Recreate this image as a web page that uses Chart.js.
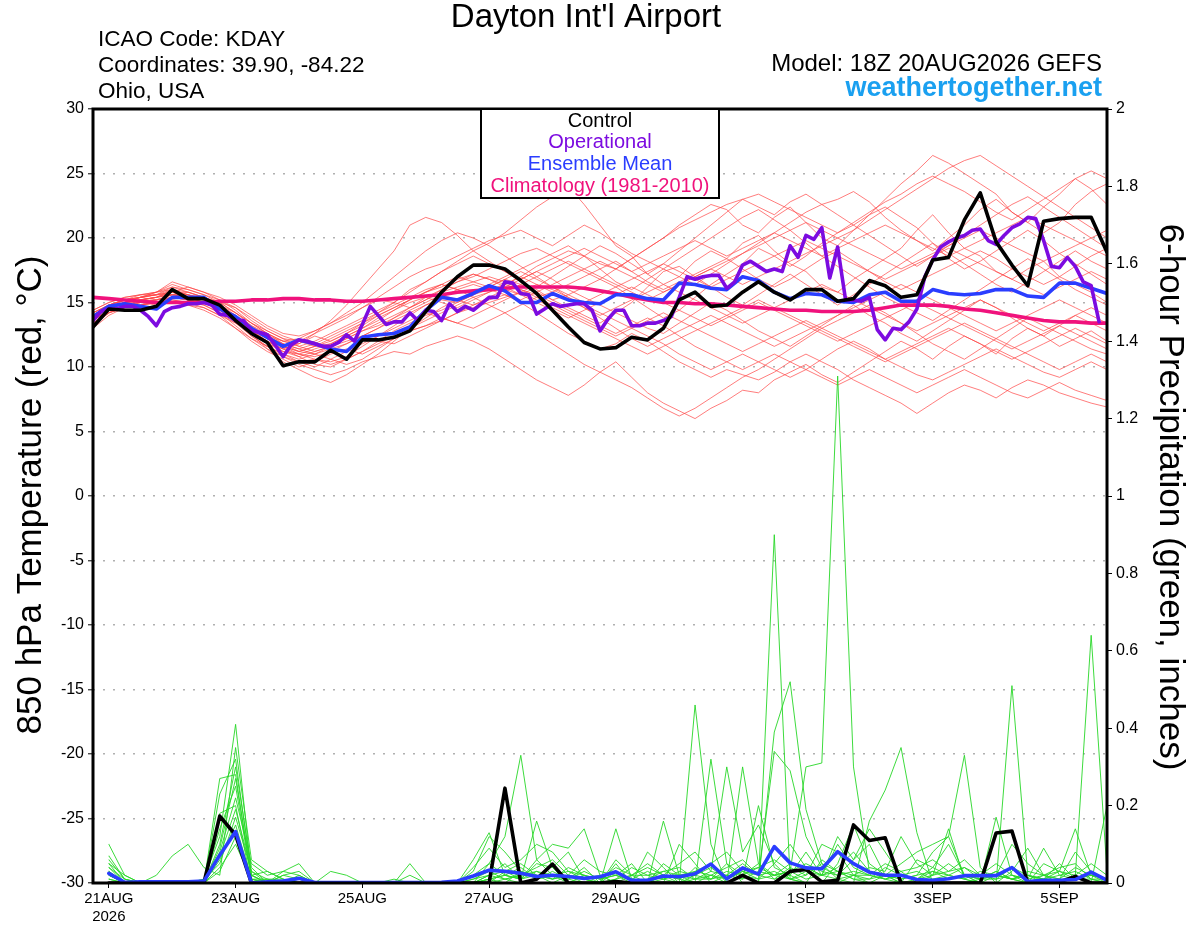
<!DOCTYPE html>
<html><head><meta charset="utf-8">
<script src="https://cdn.jsdelivr.net/npm/chart.js@4"></script>
<style>html,body{margin:0;padding:0;background:#fff}canvas{display:block}</style>
</head><body>
<canvas id="c" width="1200" height="927"></canvas>
<script>
// ---------- tick labels ----------
const xTickHours = [6,54,102,150,198,270,318,366];
const xTickLabels = [["21AUG","2026"],"23AUG","25AUG","27AUG","29AUG","1SEP","3SEP","5SEP"];
const tempRange = [-30, 30];
const precipRange = [0, 2];

// ---------- 850 hPa temperature (6-hourly from 18Z 20AUG) ----------
const controlTemp = [13.1,14.5,14.4,14.4,14.7,16.0,15.3,15.3,14.8,13.6,12.6,11.9,10.1,10.4,10.4,11.3,10.6,
 12.1,12.1,12.3,12.8,14.3,15.8,17.0,17.9,17.9,17.6,16.7,15.7,14.4,13.1,11.9,11.4,11.5,
 12.3,12.1,13.0,15.2,15.8,14.7,14.8,15.8,16.6,15.8,15.2,16.0,16.0,15.1,15.3,16.7,
 16.3,15.4,15.6,18.3,18.5,21.4,23.5,19.7,17.9,16.3,21.3,21.5,21.6,21.6,18.9];
const meanTemp = [13.9,14.7,14.9,14.7,14.5,15.4,15.4,15.4,14.5,13.9,13.0,12.3,11.6,12.1,11.8,11.4,11.2,
 12.3,12.5,12.6,13.1,14.4,15.4,15.2,15.7,16.3,15.9,15.0,15.0,15.7,15.2,15.0,14.9,15.6,
 15.6,15.3,15.2,16.5,16.4,16.1,16.0,17.0,16.7,15.8,15.3,15.7,15.6,15.1,15.0,15.6,
 15.8,15.1,15.1,16.0,15.7,15.6,15.7,16.0,16.0,15.5,15.4,16.5,16.5,16.1,15.7];
const climoTemp = [15.4,15.3,15.2,15.1,15.0,15.0,15.0,15.0,15.1,15.1,15.2,15.2,15.3,15.3,15.2,15.2,15.1,
 15.1,15.2,15.3,15.4,15.5,15.6,15.8,15.9,16.0,16.1,16.2,16.2,16.2,16.2,16.1,15.9,15.7,
 15.4,15.2,15.0,15.0,14.9,14.9,14.8,14.7,14.6,14.5,14.4,14.4,14.3,14.3,14.3,14.4,
 14.6,14.8,14.8,14.8,14.7,14.5,14.4,14.2,14.0,13.8,13.6,13.5,13.5,13.4,13.4];
// operational run is 3-hourly
const operTemp = [13.6,14.3,14.5,14.5,14.7,14.7,14.4,13.9,13.2,14.3,14.6,14.7,14.9,14.9,15.0,14.8,14.1,14.0,13.6,13.6,12.8,12.7,12.5,11.7,10.8,11.7,12.1,12.0,11.8,11.6,11.6,11.9,12.5,12.0,13.3,
 14.7,14.0,13.3,13.5,13.5,14.2,13.6,14.4,14.3,13.6,14.9,14.3,14.7,14.4,14.9,15.4,15.4,16.6,16.5,15.7,15.6,14.1,14.5,14.9,14.7,14.8,14.9,14.9,14.4,12.8,13.7,
 14.4,14.4,13.2,13.2,13.4,13.4,13.6,13.9,15.4,17.0,16.8,17.0,17.1,17.1,16.1,16.6,17.9,18.2,17.8,17.4,17.6,17.4,19.4,18.5,20.2,19.9,20.8,16.9,19.3,15.2,15.2,15.1,15.4,
 12.9,12.1,13.0,12.9,13.5,14.5,17.0,18.3,19.3,19.7,20.0,20.2,20.6,20.7,19.8,19.5,20.2,20.8,21.1,21.6,21.5,19.8,17.8,17.7,18.5,17.8,16.6,16.3,13.5];

// ensemble members (temperature)
const mem01 = [13.8,14.6,15.0,15.2,15.4,16.0,15.6,15.2,14.8,14.0,13.2,12.6,12.0, 11.8,12.4,12.0,12.6,13.4,14.2,15.0,16.0,16.6,17.4,18.2,19.0,19.6, 20.4,21.4,22.4,23.2,24.0,22.6,21.0,19.4,18.6,17.2,16.4,17.0,18.2, 19.0,18.4,19.6,20.2,19.0,18.0,17.4,16.2,15.8,16.8,17.6,18.4,19.2, 20.6,21.8,20.4,19.2,18.6,17.4,16.8,17.6,18.2,17.0,16.4,15.8,15.0];
const mem02 = [13.2,14.2,14.6,14.8,15.0,15.2,15.0,14.8,14.2,13.4,12.4,11.6,10.8, 10.2,9.8,9.4,9.8,10.4,10.8,11.2,11.0,11.6,12.0,12.4,12.0,11.4, 10.6,9.8,9.0,8.4,7.8,8.6,9.6,10.4,9.2,8.0,7.2,6.6,6.0, 6.8,7.4,8.2,8.0,9.0,9.6,10.2,9.4,8.8,9.6,10.4,11.2,12.0, 11.4,10.6,11.6,12.4,11.8,11.0,12.2,13.0,12.4,11.6,12.2,12.8,12.0];
const mem03 = [14.0,14.8,15.2,15.4,15.8,16.4,16.0,15.6,15.0,14.6,13.8,13.0,12.4, 12.0,11.6,11.8,12.4,13.0,13.6,14.4,15.2,15.8,16.2,16.8,17.2,16.8, 16.4,17.0,17.8,18.4,19.0,18.6,18.0,17.6,18.4,19.2,20.0,21.0,21.8, 22.6,22.2,21.0,20.4,21.6,22.4,21.2,20.0,19.4,20.6,21.8,23.0,24.2, 25.2,26.4,25.8,25.0,24.2,23.4,22.0,21.2,22.4,23.4,24.6,23.8,22.6];
const mem04 = [13.6,14.4,15.0,15.0,15.2,15.6,15.8,15.4,14.6,13.8,12.8,12.0,11.2, 11.0,10.6,10.4,10.8,11.6,12.4,13.2,14.0,14.8,15.2,15.0,15.6,16.2, 16.8,16.4,15.8,15.2,15.6,16.2,16.8,16.2,15.4,14.6,13.8,14.4,15.4, 16.4,17.2,18.0,19.2,18.6,17.8,18.6,19.6,20.4,21.0,21.8,22.4,21.6, 20.8,19.6,18.4,17.6,18.2,19.0,19.8,20.6,19.8,18.8,18.0,17.2,16.4];
const mem05 = [14.2,14.8,15.2,15.6,15.6,15.8,15.4,15.0,14.4,13.6,12.6,11.8,11.4, 11.8,12.6,13.6,14.8,16.2,17.6,19.0,21.0,21.6,21.2,20.2,19.0,18.2, 17.4,16.6,16.0,15.2,14.6,14.0,13.4,14.2,15.0,16.2,17.4,17.8,17.0, 16.2,15.4,14.8,15.6,16.4,17.2,16.4,15.6,14.8,15.6,16.4,17.2,18.0, 18.8,19.6,18.8,18.0,17.2,16.4,15.8,16.6,17.4,18.2,19.0,18.2,17.6];
const mem06 = [13.4,14.4,14.8,15.0,14.8,15.0,14.8,14.6,14.0,13.0,12.0,11.2,10.6, 10.0,10.4,11.0,11.4,11.0,11.6,12.2,12.8,13.2,13.6,14.2,14.8,15.2, 15.6,15.0,14.2,13.4,12.6,12.0,11.4,11.8,12.6,12.0,11.2,10.4,9.8, 9.2,9.8,9.4,9.0,9.6,10.4,11.0,10.4,9.8,9.0,8.4,7.8,7.2, 6.4,7.2,8.0,8.6,8.2,7.6,8.4,9.0,8.6,8.0,7.6,7.2,6.9];
const mem07 = [14.0,14.6,15.0,15.4,15.6,15.8,16.2,15.8,15.2,14.4,13.4,12.8,12.2, 11.6,11.2,11.6,12.2,12.8,13.4,14.0,14.6,15.4,16.0,16.6,17.2,16.8, 16.2,15.6,16.2,17.0,17.8,18.6,19.4,18.8,18.0,17.2,18.0,19.0,20.0, 21.0,22.0,23.0,22.4,21.8,22.8,23.4,22.6,23.0,23.6,22.8,21.6,20.6, 19.8,19.0,20.0,21.0,22.2,23.0,22.0,21.2,20.4,21.2,22.6,23.6,24.2];
const mem08 = [13.0,14.0,14.6,15.0,15.2,15.4,15.2,15.0,14.6,14.0,13.0,12.2,11.6, 11.2,11.0,10.6,10.2,10.6,11.4,12.2,13.0,13.6,14.2,14.8,15.4,15.8, 16.2,16.8,17.4,16.8,16.0,15.4,14.8,14.2,13.6,13.0,12.6,13.4,14.2, 15.0,14.4,13.6,12.8,12.2,11.6,12.4,13.2,14.0,14.8,14.0,13.4,12.6, 12.0,12.8,13.6,14.4,15.2,14.6,13.8,13.0,12.4,13.2,14.0,13.4,12.8];
const mem09 = [14.4,15.0,15.4,15.6,15.8,16.0,15.6,15.2,14.8,13.8,12.6,11.4,10.4, 9.8,9.2,8.8,9.4,10.2,11.0,12.0,13.0,13.8,14.6,15.2,15.8,16.4, 17.0,17.6,18.2,18.8,19.4,18.6,17.6,16.6,16.0,16.8,17.6,18.4,19.2, 20.0,20.8,21.6,22.2,21.4,20.6,19.6,18.6,17.8,17.0,16.2,15.4,14.8, 14.2,13.6,14.4,15.2,16.0,16.8,17.6,18.4,17.6,16.8,16.0,15.4,14.8];
const mem10 = [13.6,14.6,15.0,15.2,15.0,15.4,15.2,15.0,14.4,13.6,12.6,11.8,11.2, 10.8,11.2,11.6,12.0,12.4,12.0,11.8,12.4,13.0,13.6,14.2,14.6,15.0, 15.4,15.8,16.4,16.0,15.4,14.8,14.2,13.6,13.0,12.4,11.8,11.0,10.4, 9.8,10.4,11.0,10.4,9.8,9.2,9.8,10.6,11.4,12.0,11.4,10.6,10.0, 9.4,9.0,9.6,10.2,10.8,11.4,10.8,10.2,9.6,9.2,9.8,10.4,9.8];
const mem11 = [14.0,14.8,15.2,15.2,15.4,15.8,15.6,15.4,15.0,14.2,13.2,12.4,12.0, 12.2,12.8,13.4,14.0,14.6,15.2,15.0,14.6,15.2,16.0,16.6,17.0,17.6, 18.2,18.8,19.2,18.6,18.0,17.4,16.8,17.6,18.4,19.2,20.0,20.8,21.4, 22.0,22.6,23.0,23.4,22.8,22.2,21.6,21.0,20.4,21.2,22.0,22.8,23.4, 24.2,24.8,24.2,23.6,22.8,22.0,21.4,22.2,23.0,23.8,24.6,25.2,24.6];
const mem12 = [13.8,14.6,15.0,15.4,15.6,16.0,15.8,15.4,14.8,14.0,13.0,12.4,11.8, 11.4,11.8,12.4,13.0,13.6,14.2,14.8,15.4,16.0,16.4,16.0,15.4,14.8, 14.2,13.4,12.6,11.8,11.0,10.2,9.6,9.0,8.4,7.6,6.8,6.2,6.8, 7.6,8.4,9.2,9.8,10.6,11.4,12.2,13.0,13.6,14.2,14.8,14.2,13.4, 12.6,11.8,11.2,10.6,11.4,12.2,13.0,13.8,13.2,12.6,12.0,11.4,11.0];
const mem13 = [14.2,14.8,15.0,15.2,15.4,15.6,15.6,15.2,14.6,13.6,12.4,11.6,11.0, 10.6,11.0,11.4,11.8,12.4,13.0,13.8,14.6,15.2,15.8,16.2,16.6,17.0, 16.6,16.0,15.4,15.8,16.4,17.0,17.6,18.2,17.4,16.6,16.0,16.6,17.2, 17.8,18.4,17.6,16.8,16.2,16.8,17.6,18.4,19.0,18.2,17.4,16.6,16.0, 16.6,17.2,17.8,18.4,19.0,18.4,17.6,17.0,16.4,17.0,17.8,18.6,19.2];
const mem14 = [13.4,14.2,14.8,14.8,15.0,15.2,15.0,14.6,14.0,13.4,12.8,12.0,11.4, 10.8,10.2,10.0,10.6,11.2,11.8,12.4,12.8,13.2,13.8,13.4,13.0,13.6, 14.2,14.8,15.4,14.8,14.2,13.6,13.0,12.4,13.0,13.6,14.2,13.6,13.0, 12.4,11.8,11.2,11.8,12.4,13.0,13.6,13.0,12.4,11.8,11.2,10.6,11.2, 11.8,12.4,13.0,12.4,11.8,11.2,10.6,11.2,11.8,12.4,13.0,12.4,11.8];
const mem15 = [14.0,14.6,15.2,15.4,15.6,16.2,16.0,15.6,15.2,14.6,13.6,12.8,12.2, 12.0,12.6,13.2,13.8,14.6,15.4,16.2,17.0,17.6,18.0,18.6,19.2,19.8, 20.2,20.6,20.0,19.4,20.2,21.0,20.4,19.6,18.8,18.2,17.6,17.0,16.4, 17.2,18.0,18.8,19.6,20.4,21.2,22.0,22.6,21.8,21.0,20.2,19.4,18.6, 17.8,18.6,19.4,20.2,21.0,21.8,22.6,23.2,22.4,21.6,20.8,20.0,19.2];
const mem16 = [13.2,14.2,14.6,14.8,15.0,15.4,15.2,14.8,14.2,13.2,12.2,11.4,10.8, 10.4,10.6,10.2,10.6,11.2,12.0,12.8,13.4,14.0,14.4,15.0,15.6,16.0, 16.4,16.0,15.6,15.0,14.4,13.8,13.2,12.6,13.2,13.8,13.2,12.4,11.6, 11.0,10.4,9.8,10.4,11.0,10.4,9.8,9.2,8.6,9.2,9.8,9.2,8.6, 8.0,8.6,9.2,9.8,9.2,8.6,8.0,7.6,8.2,8.8,8.2,7.8,7.4];
const mem17 = [14.0,14.8,15.2,15.4,15.6,15.6,15.4,15.2,14.8,14.2,13.4,12.6,11.8, 11.2,11.6,12.0,12.6,13.2,14.0,14.6,15.2,15.8,16.4,17.0,16.6,16.2, 15.8,16.4,17.0,17.6,18.2,17.6,17.0,16.4,15.8,15.2,15.8,16.4,17.0, 17.6,18.2,18.8,19.4,20.0,20.6,21.2,20.6,20.0,20.6,21.4,22.2,23.0, 23.8,24.6,25.4,26.0,26.4,25.6,24.8,24.0,23.2,22.4,21.6,20.8,20.0];
const mem18 = [13.6,14.4,15.0,15.2,15.4,15.6,15.4,15.0,14.4,13.8,13.0,12.2,11.6, 11.0,11.4,11.8,12.4,13.0,13.8,14.4,15.0,15.4,15.0,14.6,15.2,15.8, 16.4,17.0,16.4,15.8,15.2,14.6,14.0,14.6,15.2,15.8,16.4,15.8,15.2, 14.6,14.0,13.4,14.0,14.6,15.2,15.8,16.4,15.8,15.2,14.6,14.0,13.4, 12.8,13.4,14.0,14.6,15.2,14.6,14.0,13.4,12.8,13.4,14.0,14.6,14.0];
const mem19 = [14.4,15.0,15.4,15.6,15.8,16.6,16.2,15.8,15.4,14.8,14.0,13.2,12.6, 12.4,12.8,13.4,14.2,15.0,16.0,17.0,18.0,19.0,19.8,20.4,20.0,19.4, 18.6,17.8,17.0,16.2,15.4,14.6,13.8,13.0,12.2,11.6,12.2,12.8,13.4, 14.0,13.4,12.8,12.2,11.6,12.2,12.8,13.4,14.0,14.6,15.2,15.8,16.4, 15.8,15.2,14.6,14.0,13.4,12.8,13.4,14.0,14.6,15.2,14.6,14.0,13.4];
const mem20 = [13.8,14.6,15.0,15.4,15.2,15.4,15.2,15.0,14.6,13.8,12.8,12.0,11.4, 11.0,10.8,11.2,11.8,12.4,13.0,13.6,14.2,14.8,15.4,16.0,16.4,16.0, 15.6,15.2,15.8,16.4,17.0,17.6,18.2,17.6,17.0,16.4,15.8,16.4,17.0, 17.6,17.0,16.4,17.0,17.6,18.2,18.8,19.4,20.0,19.4,18.8,18.2,17.6, 18.2,18.8,19.4,20.0,20.6,20.0,19.4,18.8,18.2,18.8,19.4,20.0,20.6];
const mem21 = [13.6,14.4,14.8,15.0,15.2,15.6,15.4,15.0,14.6,13.8,13.0,12.2,11.8, 11.4,11.0,11.6,12.2,12.8,13.2,13.8,14.4,15.0,15.6,15.2,14.8,15.4, 16.0,15.6,15.0,14.4,13.8,14.4,15.0,15.6,16.2,15.6,15.0,14.4,13.8, 13.2,13.8,14.4,15.0,14.4,13.8,13.2,12.6,12.0,12.6,13.2,13.8,14.4, 15.0,14.4,13.8,13.2,12.6,12.0,11.4,12.0,12.6,13.2,12.6,12.0,11.4];
const mem22 = [14.2,14.8,15.2,15.4,15.8,16.2,15.8,15.4,15.0,14.2,13.4,12.6,12.0, 11.6,12.0,12.6,13.2,13.8,14.4,15.0,15.8,16.6,17.4,18.0,18.6,18.0, 17.4,16.8,17.4,18.0,18.6,19.2,18.6,18.0,17.4,18.0,18.6,19.2,19.8, 19.2,18.6,19.2,19.8,20.4,19.8,19.2,18.6,19.2,19.8,20.4,21.0,20.4, 19.8,19.2,18.6,19.2,19.8,20.4,21.0,21.6,21.0,20.4,19.8,19.2,18.6];
const mem23 = [13.4,14.2,14.6,14.8,15.0,15.0,14.8,14.4,13.8,13.0,12.2,11.6,11.0, 10.4,10.0,10.6,11.2,11.8,12.4,13.0,13.6,14.2,13.8,13.4,14.0,14.6, 15.2,15.8,15.2,14.6,14.0,13.4,12.8,12.2,11.6,11.0,11.6,12.2,12.8, 13.4,14.0,14.6,15.2,14.6,14.0,13.4,12.8,12.2,11.6,11.0,10.4,11.0, 11.6,12.2,12.8,13.4,12.8,12.2,11.6,11.0,10.4,9.8,10.4,11.0,10.4];
const mem24 = [14.0,14.6,15.0,15.2,15.4,15.8,15.4,15.0,14.4,13.6,12.8,12.2,11.6, 11.2,11.6,12.2,12.8,13.4,14.0,14.6,15.2,15.8,16.4,16.0,15.6,16.2, 16.8,17.4,16.8,16.2,15.6,15.0,15.6,16.2,16.8,17.4,18.0,17.4,16.8, 16.2,16.8,17.4,18.0,18.6,19.2,19.8,19.2,18.6,18.0,17.4,16.8,17.4, 18.0,18.6,19.2,18.6,18.0,17.4,16.8,16.2,15.6,16.2,16.8,17.4,16.8];
const tempMembers = [mem01,mem02,mem03,mem04,mem05,mem06,mem07,mem08,mem09,mem10,mem11,mem12,mem13,mem14,mem15,mem16,mem17,mem18,mem19,mem20,mem21,mem22,mem23,mem24];

// ---------- 6-hour precipitation (ending 00Z 21AUG ... 18Z 5SEP) ----------
const controlPrecip = [0,0,0,0,0,0,0,.173, .124,0,0,0,0,0,0,0, 0,0,0,0,0,0,0,0, 0,.245,0,.01,.049,0,0,0,
 .004,0,0,0,0,0,0,0, .02,0,0,.03,.035,.003,.007,.15, .11,.117,0,0,0,0,0,0, .129,.134,0,0,.003,.017,0,0];
const meanPrecip = [.025,.002,.003,.003,.003,.003,.005,.072, .133,0,.003,.005,.012,.001,.001,.001, .001,.001,.001,.001,.001,.002,.005,.018, .033,.030,.025,.017,.020,.017,.012,.016,
 .029,.007,.007,.018,.016,.024,.049,.011, .039,.023,.094,.052,.039,.037,.081,.050, .028,.020,.020,.009,.007,.011,.019,.019, .019,.040,.004,.007,.007,.009,.028,.007];
const pm01 = [.10,.02,0,0,0,0,.01,.12, .41,.02,0,0,0,0,0,0, 0,0,0,0,0,0,0,.02, .05,.12,.33,.06,.02,0,0,0, 0,0,0,0,0,.02,.05,0, 0,0,.9,.01,0,0,0,.02, 0,0,0,0,0,.01,.02,0, 0,.51,.02,0,0,0,0,0];
const pm02 = [.07,.01,0,.02,.07,.10,.04,.02, .35,.06,.03,.01,0,0,0,0, 0,0,0,.05,0,0,0,.06, .13,.02,.01,.16,.04,0,.02,0, .14,.01,0,.02,0,.46,.10,0, .02,.05,.02,.03,.30,.31,1.31,.30, .03,.01,0,0,0,0,0,.01, .02,.01,0,0,0,.02,.64,.03];
const pm03 = [.05,0,0,0,0,0,0,.27, .28,.01,0,.03,.05,0,0,0, 0,0,0,0,0,0,0,0, .02,.05,.01,.06,.10,.09,.14,.02, 0,0,0,.16,.02,0,.32,.05, 0,0,.39,.52,.19,.05,.01,0, .16,.24,.35,.13,0,0,0,0, 0,0,0,0,0,0,0,.2];
const pm04 = [.03,0,0,0,0,0,0,.23, .32,.02,.03,.01,0,0,0,0, 0,0,.01,0,0,0,0,.03, .12,.08,.03,.01,.02,.01,0,0, .05,0,0,.02,.05,.08,.03,.30, .08,.15,.05,.01,0,.06,.03,.01, 0,.02,.05,.08,.10,.12,.33,.04, 0,0,0,.01,0,0,0,0];
const pm05 = [.02,0,0,0,0,0,0,.18, .20,0,.01,0,.02,0,0,0, 0,0,0,0,0,0,0,0, 0,.03,.05,.02,0,.02,.06,.03, .02,.05,0,0,.10,.05,0,.02, .05,.02,.34,.29,.12,.04,.02,.06, .10,.02,0,.01,.02,.14,.01,0, .17,.02,0,.05,.03,.14,.02,0];
const pm06 = [.04,.01,0,0,0,0,0,.14, .25,.01,0,0,0,0,.03,.02, 0,0,0,0,0,0,0,0, .01,.02,.01,.05,.04,.08,.01,0, .06,.02,.04,.02,.01,0,.02,0, .30,.05,.01,.02,0,0,.05,.15, .05,.02,0,.06,.04,.10,.02,0, 0,.03,.09,.02,0,0,0,0];
const pm07 = [.02,0,0,0,0,0,0,.10, .30,.04,0,.02,.03,0,0,0, 0,0,0,0,0,0,0,.01, .03,.01,0,.01,.02,.03,.02,.01, .02,0,.08,.04,0,.01,.03,.02, .01,.20,.04,.02,.08,.02,.10,.04, .02,.05,.03,0,.02,.05,.02,.01, .03,.01,0,.02,.04,.05,.01,0];
const pm08 = [.01,0,0,0,0,0,0,.08, .22,.05,.02,.03,.02,0,0,0, 0,0,0,0,0,0,0,0, .05,.02,.04,.01,.03,.01,.04,0, .01,.04,.02,.01,0,.04,.01,.05, .02,.01,.05,.10,.04,.02,.12,.06, .14,.08,.02,.01,.04,.02,.01,0, .02,.10,.05,.02,.01,.08,.03,.01];
const pm09 = [.03,0,0,0,0,0,.01,.05, .17,.03,.01,.01,0,0,0,0, 0,0,0,.02,0,0,0,0, .02,.01,.02,.03,.01,.02,.01,.02, 0,0,.01,.03,.02,.02,.04,.01, .03,.02,.01,.04,.02,.10,.08,.02, .04,.03,.12,.05,.02,.03,.06,.02, .01,.04,.02,.01,.03,.02,.05,.02];
const pm10 = [.05,.02,0,0,0,0,0,.03, .12,.02,0,0,.01,0,0,0, 0,0,0,0,0,0,0,.04, .09,.04,.06,.10,.08,.03,.01,0, .03,.01,0,.05,.02,.03,.05,.08, .03,.04,.06,.03,.05,.03,.02,.03, .02,.01,.03,.04,.06,.03,.04,.02, .05,.02,.01,.09,.02,.03,.01,0];
const pm11 = [.06,.01,0,0,0,0,0,.06, .15,.01,0,0,0,0,0,0, 0,0,0,0,0,0,0,0, .01,0,.03,.02,.01,.04,.02,.01, .04,.02,.02,.03,.04,.01,.01,.02, .01,.03,.02,.05,.04,.02,.04,.08, .03,.02,.01,.02,.08,.12,.02,.01, .03,.01,.02,.01,.05,.01,.02,.01];
const pm12 = [.02,0,0,0,0,0,0,.04, .10,.01,.01,0,0,0,0,0, 0,0,0,0,0,0,0,0, 0,.01,.02,.04,.06,.02,0,0, 0,.02,.05,.02,.01,.03,.02,.04, .06,.02,.03,.01,.02,.05,.03,.02, .01,.04,.02,.01,.03,.02,.01,.03, .02,.01,.03,.02,.01,.04,.02,.01];
const pm13 = [.04,0,0,0,0,0,0,.09, .27,.02,0,0,0,0,0,0, 0,0,0,0,0,0,0,.01, .02,.03,.01,.02,.01,.02,.01,0, .01,.02,0,.01,.03,.02,.01,.03, .02,.04,.02,.01,.03,.02,.01,.02, .02,.01,.02,.03,.01,.02,.04,.01, .01,.02,.01,.02,.03,.01,.02,.01];
const pm14 = [.01,0,0,0,0,0,0,.07, .19,.03,0,.02,.01,0,0,0, 0,0,0,0,0,0,0,0, .01,.02,.01,.03,.02,.01,.03,.01, .02,.01,.03,.01,.02,.01,.02,.01, .03,.01,.02,.03,.01,.02,.03,.01, .01,.02,.01,.02,.03,.01,.02,.01, .02,.01,.02,.01,.02,.01,.01,.01];
const precipMembers = [pm01,pm02,pm03,pm04,pm05,pm06,pm07,pm08,pm09,pm10,pm11,pm12,pm13,pm14];

// ---------- helpers ----------
const FONT = '"Liberation Sans", Arial, Helvetica, sans-serif';
function series(vals, stepHours, firstHour) {
  return vals.map((v, i) => ({ x: firstHour + i * stepHours, y: v }));
}
function line(data, color, width, axis, order) {
  return { data, borderColor: color, borderWidth: width, yAxisID: axis, order,
           pointRadius: 0, tension: 0, fill: false, borderJoinStyle: 'round', borderCapStyle: 'round' };
}

const datasets = [];
datasets.push(line(series(controlTemp, 6, 0), '#000000', 3.6, 'y', 0));
datasets.push(line(series(operTemp, 3, 0), '#7c0be0', 3.6, 'y', 1));
datasets.push(line(series(meanTemp, 6, 0), '#2a3dff', 3.6, 'y', 2));
datasets.push(line(series(meanPrecip, 6, 6), '#2a3dff', 3.6, 'y2', 2.5));
datasets.push(line(series(controlPrecip, 6, 6), '#000000', 3.6, 'y2', 2.7));
datasets.push(line(series(climoTemp, 6, 0), '#f0127c', 3.6, 'y', 3));
precipMembers.forEach(m => datasets.push(line(series(m, 6, 6), 'rgba(40,215,40,0.9)', 1, 'y2', 4)));
tempMembers.forEach(m => datasets.push(line(series(m, 6, 0), 'rgba(255,70,70,0.7)', 1, 'y', 5)));

const decor = {
  id: 'decor',
  afterDatasetsDraw(chart) {
    const { ctx, chartArea: a } = chart;
    ctx.save();
    ctx.strokeStyle = '#000'; ctx.lineWidth = 3;
    ctx.strokeRect(a.left, a.top, a.right - a.left, a.bottom - a.top);
    // legend box
    ctx.fillStyle = '#fff';
    ctx.fillRect(481, a.top, 238, 89);
    ctx.lineWidth = 2;
    ctx.strokeRect(481, a.top, 238, 89);
    ctx.textAlign = 'center'; ctx.textBaseline = 'middle';
    ctx.font = '20px ' + FONT;
    [['Control','#000000',121],['Operational','#7c0be0',142],['Ensemble Mean','#2a3dff',164],['Climatology (1981-2010)','#f0127c',186]]
      .forEach(([t,c,y]) => { ctx.fillStyle = c; ctx.fillText(t, 600, y); });
    // headings
    ctx.fillStyle = '#000';
    ctx.font = '33px ' + FONT;
    ctx.fillText("Dayton Int'l Airport", 586, 18);
    ctx.textAlign = 'left';
    ctx.font = '22.5px ' + FONT;
    ctx.fillText('ICAO Code: KDAY', 98, 40);
    ctx.fillText('Coordinates: 39.90, -84.22', 98, 66);
    ctx.fillText('Ohio, USA', 98, 92);
    ctx.textAlign = 'right';
    ctx.font = '24px ' + FONT;
    ctx.fillText('Model: 18Z 20AUG2026 GEFS', 1102, 64);
    ctx.font = 'bold 27px ' + FONT;
    ctx.fillStyle = '#1aa0f0';
    ctx.fillText('weathertogether.net', 1102, 89);
    // axis titles
    ctx.fillStyle = '#000';
    ctx.font = '35px ' + FONT;
    ctx.textAlign = 'center';
    ctx.save(); ctx.translate(31, 495); ctx.rotate(-Math.PI/2);
    ctx.fillText('850 hPa Temperature (red, \u00B0C)', 0, 0); ctx.restore();
    ctx.save(); ctx.translate(1170, 497); ctx.rotate(Math.PI/2);
    ctx.fillText('6-hour Precipitation (green, inches)', 0, 0); ctx.restore();
    ctx.restore();
  }
};

Chart.defaults.font.family = FONT;
Chart.defaults.color = '#000';

new Chart(document.getElementById('c'), {
  type: 'line',
  data: { datasets },
  options: {
    responsive: false, animation: false, devicePixelRatio: 1,
    layout: { padding: { top: 109, left: 0, right: 0, bottom: 0 } },
    plugins: { legend: { display: false }, tooltip: { enabled: false } },
    scales: {
      x: {
        type: 'linear', min: 0, max: 384,
        afterBuildTicks: s => { s.ticks = xTickHours.map(v => ({ value: v })); },
        afterFit: s => { s.height = 44; },
        ticks: { autoSkip: false, maxRotation: 0, font: { size: 15 }, padding: 2,
                 callback: v => { const i = xTickHours.indexOf(v); return i >= 0 ? xTickLabels[i] : ''; } },
        grid: { drawOnChartArea: false, drawTicks: true, tickLength: 5, tickColor: '#000', tickWidth: 1 },
        border: { display: false }
      },
      y: {
        position: 'left', min: tempRange[0], max: tempRange[1],
        afterFit: s => { s.width = 93; },
        ticks: { stepSize: 5, font: { size: 16 }, padding: 4 },
        grid: { color: '#b0b0b0', lineWidth: 1.6, tickLength: 5, tickColor: '#000', tickWidth: 1, tickBorderDash: [] },
        border: { display: false, dash: [2, 8] }
      },
      y2: {
        position: 'right', min: precipRange[0], max: precipRange[1],
        afterFit: s => { s.width = 93; },
        ticks: { stepSize: 0.2, font: { size: 16 }, padding: 4,
                 callback: v => String(Math.round(v * 10) / 10) },
        grid: { drawOnChartArea: false, tickLength: 5, tickColor: '#000', tickWidth: 1 },
        border: { display: false }
      }
    }
  },
  plugins: [decor]
});
</script>
</body></html>
